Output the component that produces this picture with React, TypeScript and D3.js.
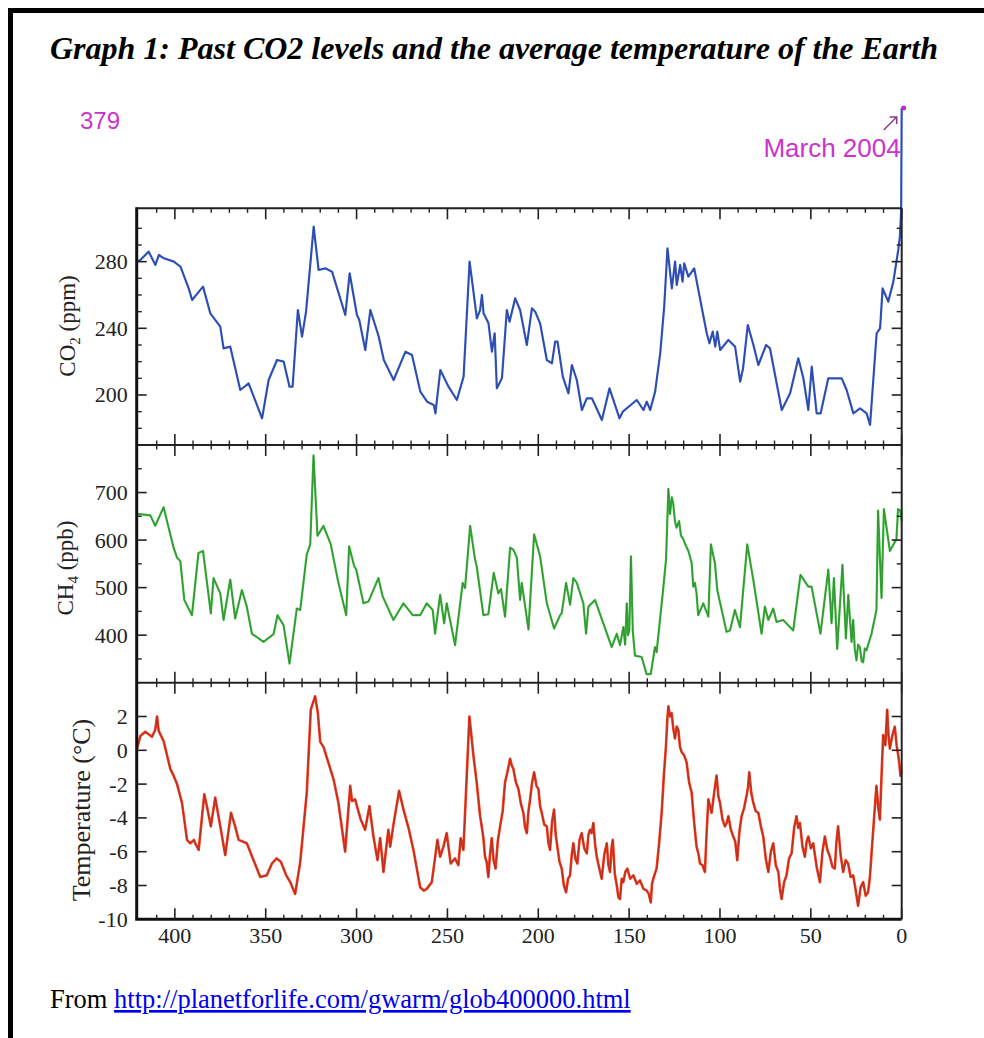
import React from 'react';
import * as d3 from 'd3';

// ---------- DATA (age in thousands of years before present) ----------
const co2Data: [number, number][] = [
  [421, 280], [419, 281], [414.4, 286], [410.7, 278], [408.8, 284], [406, 282], [400.6, 280],
  [396.9, 277], [392.4, 264], [390.5, 257], [384.5, 265], [380.5, 249], [375, 241], [373.2, 228],
  [369.5, 229], [364, 203], [359.4, 207], [352, 186], [348.4, 209], [343.8, 221], [340.1, 220],
  [336.9, 205], [335.2, 205], [332.3, 251], [330, 235], [327.8, 250], [323.6, 301], [320.9, 275],
  [317.2, 276], [313.5, 274], [306.2, 248], [303.8, 273], [299.8, 248], [298.5, 245], [295.2, 227],
  [292.4, 251], [287.8, 235], [285, 221], [279.6, 209], [273.1, 226], [269.5, 224], [264.9, 202],
  [261.2, 196], [257.5, 194], [256.6, 189], [253.9, 215], [249.4, 205], [244.8, 197], [241.1, 211],
  [237.8, 280], [233.8, 246], [232, 251], [231, 260], [230.1, 249], [227.4, 243], [225.5, 226],
  [224, 237], [222.8, 204], [220, 210], [217.3, 251], [215.8, 244], [212.7, 258], [210, 251],
  [206.3, 230], [203.5, 252], [201.7, 250], [199, 243], [195.3, 221], [192.5, 219], [190.7, 232],
  [189.4, 232], [186.5, 211], [183.4, 201], [181.5, 218], [178.8, 209], [176, 191], [173.3, 198],
  [170.5, 198], [165, 185], [160.8, 204], [155.3, 186], [153.5, 190], [145.8, 197], [142.1, 191],
  [140.3, 196], [138.4, 191], [135.7, 202], [132.9, 225], [130.7, 253], [128.9, 288], [126.5, 264],
  [124.7, 280], [123.8, 266], [121.9, 278], [120.6, 268], [119.7, 279], [117.4, 271], [114.2, 276],
  [111.9, 263], [107.3, 237], [105.8, 231], [104, 238], [102.6, 229], [101.5, 238], [99.9, 227],
  [95.4, 233], [91.7, 229], [88.9, 208], [87.3, 216], [84.7, 242], [81.6, 230], [78.9, 218],
  [74.6, 230], [72.5, 228], [66, 191], [61.4, 201], [56.9, 222], [54.1, 210], [51.4, 191],
  [49.5, 217], [46.8, 189], [44.6, 189], [40.4, 210], [33, 210], [30.3, 203], [26.6, 189],
  [22.9, 192], [19.3, 189], [17.4, 182], [13.8, 237], [11.9, 240], [10.5, 264], [7.4, 256],
  [4.6, 268], [1.9, 287], [1.0, 295], [0.3, 310], [0, 379],
];

const ch4Data: [number, number][] = [
  [420.8, 655], [413.5, 652], [410.8, 630], [406.2, 669], [400.7, 584], [398.8, 563], [397, 556],
  [394.8, 474], [390.6, 442], [387, 573], [384.5, 577], [380.2, 446], [378.7, 520], [375, 488],
  [373.2, 432], [369.5, 517], [366.8, 435], [363.1, 495], [360.4, 460], [357.6, 403], [351.2, 386],
  [345.7, 402], [343.5, 442], [340.2, 421], [336.9, 340], [332.9, 456], [331, 453], [327.4, 570],
  [325.5, 591], [323.7, 778], [321.5, 609], [318.2, 630], [314.2, 591], [310, 510], [305.7, 442],
  [304.1, 587], [301.3, 545], [300.2, 538], [296.2, 467], [293.4, 471], [288, 520], [285.6, 481],
  [279.7, 432], [274.2, 467], [269.1, 442], [265, 442], [261.4, 467], [258.1, 453], [256.8, 403],
  [254, 485], [251.8, 425], [250.4, 467], [245.8, 379], [241.6, 510], [240.3, 499], [237.5, 630],
  [234.8, 559], [233.9, 545], [230.2, 442], [227.5, 444], [224.5, 531], [222, 488], [220.5, 497],
  [218.3, 439], [215.5, 584], [213.7, 580], [211.8, 563], [210, 474], [209.1, 510], [205.4, 412],
  [202.3, 612], [199, 566], [195.3, 467], [191.3, 414], [188, 442], [187.1, 446], [184.7, 510],
  [182.5, 464], [180.7, 520], [178.8, 510], [175.2, 467], [173.7, 403], [172.4, 460], [168.8, 474],
  [164.2, 425], [159.6, 375], [156.8, 403], [155, 379], [153.2, 417], [152.2, 380], [151.3, 467],
  [150.6, 400], [149.9, 410], [149, 566], [148, 410], [146.8, 357], [143.1, 354], [140.4, 318],
  [138.1, 318], [135.8, 375], [134.9, 364], [131.5, 488], [129.7, 559], [128.4, 708], [127.5, 655],
  [126.5, 690], [125.7, 676], [124.8, 640], [123.9, 626], [122.5, 640], [121.5, 610], [120.2, 602],
  [119, 590], [117.4, 577], [116.5, 565], [115.6, 552], [114.7, 502], [113.8, 510], [112.9, 488],
  [112, 442], [109.2, 467], [106.4, 439], [105, 591], [102.8, 552], [101.5, 495], [96.4, 407],
  [94.5, 410], [91.8, 453], [89, 417], [85, 591], [81.7, 517], [77.1, 403], [75.3, 460],
  [73.4, 432], [70.7, 456], [68.9, 428], [65.2, 432], [59.7, 410], [55.7, 527], [51.4, 502],
  [49.6, 502], [44.7, 403], [40.4, 538], [38.6, 425], [37.3, 520], [35.5, 371], [32.6, 548],
  [30.7, 393], [29.4, 485], [27.6, 386], [26.7, 432], [25.8, 370], [24.9, 347], [24, 380],
  [23, 375], [22, 345], [21.2, 343], [20.3, 372], [19.4, 368], [16.6, 403], [13.9, 453],
  [13, 662], [11.1, 478], [9.8, 665], [6.5, 577], [2.9, 602], [2, 665], [0.7, 662], [0, 640],
];

const tempData: [number, number][] = [
  [420.8, 0.1], [419, 0.85], [416.3, 1.1], [412.6, 0.8], [410.8, 1.2], [409.8, 2.0], [408.9, 1.15],
  [406.2, 0.55], [402.5, -1.1], [400.7, -1.5], [398.8, -2.0], [396.1, -3.1], [393.3, -5.3],
  [391.5, -5.5], [389.5, -5.3], [388.8, -5.5], [386.9, -5.9], [383.8, -2.6], [382.4, -3.3],
  [380.2, -4.5], [377.8, -2.8], [375, -4.5], [372.3, -6.2], [369.1, -3.7], [366.8, -4.5],
  [364.9, -5.3], [360.4, -5.5], [356.7, -6.5], [353, -7.5], [349.4, -7.4], [346.6, -6.7],
  [344, -6.4], [341.7, -6.6], [338.7, -7.4], [336.5, -7.8], [333.8, -8.5], [331, -6.6],
  [327.4, -2.5], [325.2, 2.4], [322.8, 3.2], [321.3, 2.2], [320, 0.5], [318.2, 0.2], [312.7, -1.7],
  [310, -3.1], [306.3, -6.0], [303.5, -2.1], [302.5, -3.0], [300.8, -2.9], [297.7, -4.1],
  [295.3, -4.7], [292.9, -3.3], [290.7, -5.1], [288.5, -6.5], [287, -5.2], [285.2, -7.2],
  [282.5, -4.7], [281.5, -5.7], [279.7, -4.4], [276.6, -2.4], [274.2, -3.5], [271.4, -4.6],
  [268.7, -5.9], [265, -8.1], [263, -8.3], [261.4, -8.2], [258.6, -7.8], [255.5, -5.3], [254, -6.3],
  [252.2, -5.7], [250.4, -4.9], [248.2, -6.7], [245.8, -6.4], [244, -6.8], [242.7, -5.2],
  [241.2, -5.9], [237.9, 2.0], [235.7, -0.3], [233.9, -1.9], [232, -3.9], [231, -4.6], [230.2, -5.2],
  [229.3, -6.3], [228.4, -6.6], [227.5, -7.5], [226.6, -6.2], [225.6, -5.2], [224.6, -6.5],
  [223.5, -7.0], [222.3, -5.4], [221, -4.5], [219.6, -3.6], [218.3, -1.9], [217, -1.3],
  [215.5, -0.5], [214.6, -0.9], [213.7, -1.1], [212.3, -1.9], [210.9, -2.3], [209.5, -3.2],
  [208.2, -3.7], [207.2, -4.6], [206.3, -4.9], [205.4, -3.6], [204.5, -2.9], [203.4, -1.9],
  [202.3, -1.3], [201, -2.1], [199.9, -2.3], [199, -3.3], [198.1, -3.7], [196.7, -4.4],
  [195.3, -4.5], [194.4, -5.5], [193.5, -5.9], [192.4, -4.2], [191.3, -3.5], [190.4, -5.0],
  [189.5, -5.7], [188.3, -6.6], [187.1, -7.0], [185.9, -8.0], [184.7, -8.4], [183.6, -7.6],
  [182.5, -7.4], [181.6, -6.2], [180.7, -5.5], [179.6, -6.4], [178.5, -6.7], [177.3, -5.3],
  [176.1, -4.9], [174.7, -5.8], [173.3, -6.1], [172.4, -5.0], [171.5, -4.7], [170.6, -4.9],
  [169.7, -4.3], [168.7, -5.6], [167.8, -6.3], [166.4, -7.0], [165.1, -7.6], [163.7, -6.2],
  [162.3, -5.5], [161.4, -6.8], [160.5, -7.2], [159.7, -5.8], [159, -5.3], [157.9, -7.3],
  [156.8, -8.0], [155.9, -8.7], [155, -8.8], [154.1, -7.6], [153.2, -7.8], [152.1, -7.2],
  [151, -7.0], [149.4, -7.6], [147.7, -7.4], [145.8, -7.9], [144, -7.7], [142.1, -8.2],
  [140.3, -8.3], [139.2, -8.5], [138.1, -9.0], [137.4, -7.9], [136.7, -7.6], [135.8, -7.3],
  [134.9, -7.0], [133.5, -5.5], [132.1, -3.7], [130.9, -1.5], [129.7, 0.3], [129, 1.8],
  [128.4, 2.6], [127.5, 2.0], [126.6, 2.2], [125.7, 1.3], [124.8, 0.7], [123.8, 1.4], [122.9, 1.2],
  [122, 0.2], [121.1, -0.1], [119.7, -0.3], [118.4, -0.7], [117, -1.9], [115.6, -2.5],
  [114.2, -4.3], [112.9, -5.7], [111.9, -6.1], [111, -6.7], [109.6, -6.8], [108.3, -7.2],
  [107.4, -5.0], [106.4, -2.9], [105.5, -3.3], [104.6, -3.7], [103.2, -2.5], [101.9, -1.5],
  [100.9, -2.7], [100, -3.1], [98.6, -4.1], [97.3, -4.5], [96.3, -4.3], [95.4, -3.9], [94, -4.7],
  [92.7, -5.1], [91.6, -5.4], [90.5, -6.5], [89.3, -4.8], [88.1, -3.9], [86.7, -3.4], [85.4, -2.7],
  [84.6, -2.2], [83.9, -1.3], [82.8, -2.5], [81.7, -3.1], [80.3, -3.6], [78.9, -3.7], [77.5, -4.5],
  [76.2, -5.1], [74.8, -6.4], [73.4, -7.2], [72, -6.0], [70.7, -5.5], [69.3, -6.8], [67.9, -7.2],
  [67, -8.2], [66.1, -8.8], [64.7, -7.8], [63.4, -7.4], [62, -6.4], [60.6, -6.1], [59.2, -4.6],
  [57.9, -3.9], [56.9, -4.6], [56, -4.3], [54.6, -5.7], [53.3, -6.3], [52.3, -5.4], [51.4, -5.1],
  [50, -5.8], [48.7, -5.5], [46.8, -6.9], [45, -7.8], [43.6, -6.0], [42.3, -5.1], [40.9, -5.9],
  [39.5, -6.3], [38.1, -6.9], [36.8, -7.0], [35.9, -5.4], [35, -4.5], [33.6, -6.2], [32.2, -7.2],
  [30.8, -6.5], [29.5, -6.7], [28.1, -7.5], [26.7, -7.4], [25.3, -8.3], [24, -9.2], [22.6, -8.1],
  [21.2, -7.8], [19.8, -8.6], [18.5, -8.4], [17.5, -7.5], [16.6, -6.1], [15.2, -4.0], [13.9, -2.1],
  [12.9, -3.4], [12, -4.1], [11.1, -1.5], [10.2, 0.9], [9, 0.3], [8, 2.4], [7.2, 0.8], [6.5, 0.1],
  [5.1, 0.9], [3.8, 1.4], [2.8, 0.3], [1.9, -0.3], [1.3, -0.8], [0.7, -1.5], [0, -1.2],
];

const xMajorTicks = [400, 350, 300, 250, 200, 150, 100, 50, 0];
const xMinorTicks = [410, 390, 380, 370, 360, 340, 330, 320, 310, 290, 280, 270, 260, 240, 230, 220, 210,
  190, 180, 170, 160, 140, 130, 120, 110, 90, 80, 70, 60, 40, 30, 20, 10];
const co2MajorTicks = [200, 240, 280];
const co2MinorTicks = [180, 190, 210, 220, 230, 250, 260, 270, 290, 300];
const ch4MajorTicks = [400, 500, 600, 700];
const ch4MinorTicks = [350, 450, 550, 650, 750];
const tempTicks = [-10, -8, -6, -4, -2, 0, 2];

const titleText = 'Graph 1: Past CO2 levels and the average temperature of the Earth';
const sourcePrefix = 'From ';
const sourceUrl = 'http://planetforlife.com/gwarm/glob400000.html';
const latestValueLabel = '379';
const latestDateLabel = 'March 2004';

// ---------- LAYOUT ----------
const W = 984;
const H = 1038;
const L = 136.7;
const R = 901.7;
const co2Top = 208.3;
const ch4Top = 445;
const tempTop = 682.7;
const bottom = 919.3;

const serif = '"Liberation Serif", "Times New Roman", serif';
const sans = '"Liberation Sans", Arial, sans-serif';

export default function App() {
  const x = d3.scaleLinear().domain([421, 0]).range([L, R]);
  // piecewise scale: panel range plus off-chart excursion to the 2004 value
  const yCo2 = d3.scaleLinear().domain([170, 312, 379]).range([ch4Top, co2Top, 108]);
  const yCh4 = d3.scaleLinear().domain([300, 800]).range([tempTop, ch4Top]);
  const yTemp = d3.scaleLinear().domain([-10, 4]).range([bottom, tempTop]);

  const lineOf = (ys: d3.ScaleLinear<number, number>) =>
    d3.line<[number, number]>().x((d) => x(d[0])).y((d) => ys(d[1])).curve(d3.curveLinear);

  const co2Path = lineOf(yCo2)(co2Data) || '';
  const ch4Path = lineOf(yCh4)(ch4Data) || '';
  const tempPath = lineOf(yTemp)(tempData) || '';

  const latest = co2Data[co2Data.length - 1];

  const hTicks = (y: number, up: number, down: number, key: string) => (
    <g key={key}>
      {xMajorTicks.map((t) => (
        <line key={'M' + t} x1={x(t)} x2={x(t)} y1={y - up * 11} y2={y + down * 11} stroke="#222" strokeWidth={1.6} />
      ))}
      {xMinorTicks.map((t) => (
        <line key={'m' + t} x1={x(t)} x2={x(t)} y1={y - up * 4.5} y2={y + down * 4.5} stroke="#222" strokeWidth={1.4} />
      ))}
    </g>
  );

  const vTicks = (ys: (v: number) => number, major: number[], minor: number[], key: string) => (
    <g key={key}>
      {major.map((t) => (
        <g key={'M' + t}>
          <line x1={L} x2={L + 10} y1={ys(t)} y2={ys(t)} stroke="#222" strokeWidth={1.6} />
          <line x1={R} x2={R - 10} y1={ys(t)} y2={ys(t)} stroke="#222" strokeWidth={1.6} />
        </g>
      ))}
      {minor.map((t) => (
        <g key={'m' + t}>
          <line x1={L} x2={L + 5} y1={ys(t)} y2={ys(t)} stroke="#222" strokeWidth={1.4} />
          <line x1={R} x2={R - 5} y1={ys(t)} y2={ys(t)} stroke="#222" strokeWidth={1.4} />
        </g>
      ))}
    </g>
  );

  const yLabel = (ys: (v: number) => number, vals: number[], key: string) =>
    vals.map((t) => (
      <text key={key + t} x={L - 9} y={ys(t) + 7.5} textAnchor="end" fontFamily={serif} fontSize={22} fill="#222">
        {t}
      </text>
    ));

  return (
    <svg width={W} height={H} style={{ position: 'absolute', left: 0, top: 0, background: '#fff' }}>
      <rect x={0} y={0} width={W} height={H} fill="#fff" />
      {/* outer frame */}
      <rect x={10.5} y={10.5} width={1100} height={1200} fill="none" stroke="#000" strokeWidth={5} />

      {/* title */}
      <text x={50} y={59} fontFamily={serif} fontSize={32} fontWeight="bold" fontStyle="italic" fill="#000">
        {titleText}
      </text>

      {/* annotation */}
      <text x={80} y={yCo2(latest[1]) + 21} fontFamily={sans} fontSize={24} fill="#cc33cc">
        {latestValueLabel}
      </text>
      <text x={x(latest[0]) - 1} y={157} textAnchor="end" fontFamily={sans} fontSize={26} fill="#cc33cc">
        {latestDateLabel}
      </text>
      <g stroke="#8a3a8a" strokeWidth={1.5} fill="none">
        <line x1={x(latest[0]) - 18} y1={yCo2(latest[1]) + 22} x2={x(latest[0]) - 5} y2={yCo2(latest[1]) + 9} />
        <polyline
          points={`${x(latest[0]) - 12},${yCo2(latest[1]) + 9} ${x(latest[0]) - 5},${yCo2(latest[1]) + 9} ${x(latest[0]) - 5},${yCo2(latest[1]) + 16}`}
        />
      </g>

      {/* data lines */}
      <path d={tempPath} fill="none" stroke="#ee3a1e" strokeWidth={2.6} strokeLinejoin="round" />
      <path d={tempPath} fill="none" stroke="#8c2c24" strokeWidth={0.9} strokeOpacity={0.7} strokeLinejoin="round" />
      <path d={ch4Path} fill="none" stroke="#3bb53b" strokeWidth={2.2} strokeLinejoin="round" />
      <path d={ch4Path} fill="none" stroke="#2f6f2f" strokeWidth={0.8} strokeOpacity={0.6} strokeLinejoin="round" />
      <path d={co2Path} fill="none" stroke="#3358c4" strokeWidth={2.2} strokeLinejoin="round" />
      <path d={co2Path} fill="none" stroke="#2a3a80" strokeWidth={0.8} strokeOpacity={0.6} strokeLinejoin="round" />
      <circle cx={x(latest[0]) + 2} cy={yCo2(latest[1])} r={2.5} fill="#aa33cc" />

      {/* panel frames */}
      <line x1={L} x2={R} y1={co2Top} y2={co2Top} stroke="#222" strokeWidth={2} />
      <line x1={L} x2={R} y1={ch4Top} y2={ch4Top} stroke="#222" strokeWidth={2} />
      <line x1={L} x2={R} y1={tempTop} y2={tempTop} stroke="#222" strokeWidth={2} />
      <line x1={L - 1.5} x2={R} y1={bottom} y2={bottom} stroke="#111" strokeWidth={3} />
      <line x1={L} x2={L} y1={co2Top - 1} y2={bottom} stroke="#111" strokeWidth={3} />
      <line x1={R} x2={R} y1={co2Top} y2={bottom} stroke="#222" strokeWidth={2} />

      {/* x ticks */}
      {hTicks(co2Top, 0, 1, 'tt')}
      {hTicks(ch4Top, 1, 1, 't1')}
      {hTicks(tempTop, 1, 1, 't2')}
      {hTicks(bottom, 1, 0, 'tb')}

      {/* y ticks */}
      {vTicks(yCo2, co2MajorTicks, co2MinorTicks, 'vc')}
      {vTicks(yCh4, ch4MajorTicks, ch4MinorTicks, 'vm')}
      {vTicks(yTemp, tempTicks.filter((t) => t > -10), [], 'vt')}

      {/* tick labels */}
      {yLabel(yCo2, co2MajorTicks, 'lc')}
      {yLabel(yCh4, ch4MajorTicks, 'lm')}
      {yLabel(yTemp, tempTicks, 'lt')}
      {xMajorTicks.map((t) => (
        <text key={'xl' + t} x={x(t)} y={bottom + 24} textAnchor="middle" fontFamily={serif} fontSize={22} fill="#222">
          {t}
        </text>
      ))}

      {/* axis titles */}
      <text transform={`translate(75, 326) rotate(-90)`} textAnchor="middle" fontFamily={serif} fontSize={23} fill="#222">
        CO<tspan fontSize={15} dy={5}>2</tspan><tspan dy={-5}> (ppm)</tspan>
      </text>
      <text transform={`translate(73, 568) rotate(-90)`} textAnchor="middle" fontFamily={serif} fontSize={23} fill="#222">
        CH<tspan fontSize={15} dy={5}>4</tspan><tspan dy={-5}> (ppb)</tspan>
      </text>
      <text transform={`translate(90, 810) rotate(-90)`} textAnchor="middle" fontFamily={serif} fontSize={26} fill="#222">
        Temperature (°C)
      </text>

      {/* source */}
      <text x={50} y={1008} fontFamily={serif} fontSize={26.5} fill="#000">
        {sourcePrefix}
        <tspan fill="#0000ee" textDecoration="underline">{sourceUrl}</tspan>
      </text>
    </svg>
  );
}
